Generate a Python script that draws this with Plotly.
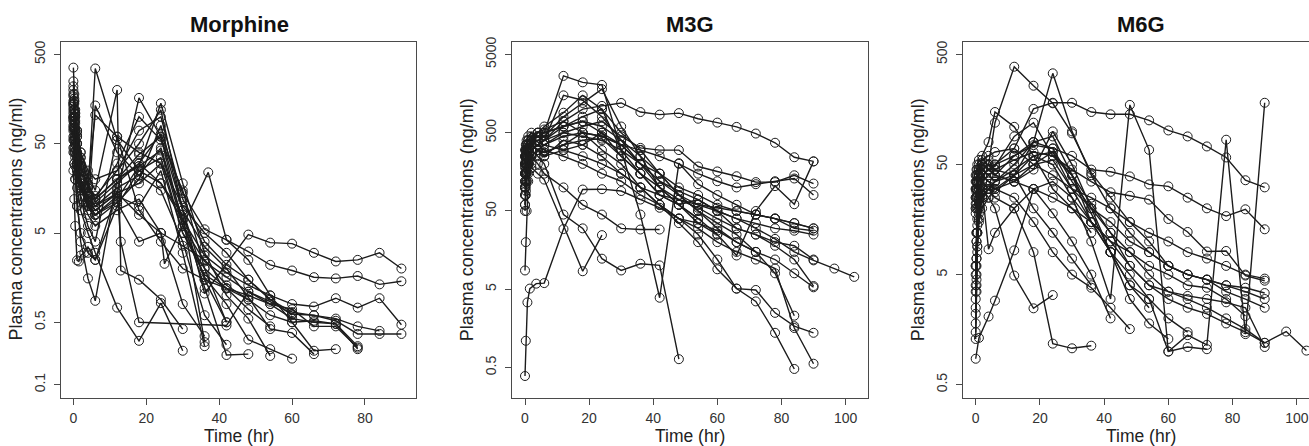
import plotly.graph_objects as go

# ---------------- data (ng/ml vs hr), one list per subject ----------------
panel_titles = ["Morphine", "M3G", "M6G"]
x_label = "Time (hr)"
y_label = "Plasma concentrations (ng/ml)"

morphine_x_ticks = [0, 20, 40, 60, 80]
morphine_y_ticks = [0.1, 0.5, 5, 50, 500]
m3g_x_ticks = [0, 20, 40, 60, 80, 100]
m3g_y_ticks = [0.5, 5, 50, 500, 5000]
m6g_x_ticks = [0, 20, 40, 60, 80, 100]
m6g_y_ticks = [0.5, 5, 50, 500]

T21 = [0, 0.25, 0.5, 1, 2, 4, 6, 12, 18, 24, 30, 36, 42, 48, 54, 60, 66, 72, 78, 84, 90]

morphine_time = [
    [0, 0.25, 0.5, 1, 2, 4, 6, 12, 18, 24, 30, 36, 48, 54, 60, 66, 72, 78, 84, 90],
    T21,
    T21,
    T21,
    T21[:20],
    T21[:19],
    [0, 0.25, 0.5, 1, 2, 4, 6, 12, 13, 18, 24, 30],
    T21[:17],
    T21[:16],
    T21[:15],
    T21[:14],
    T21[:13],
    T21[:12],
    [0, 0.25, 0.5, 1, 2, 4, 6, 12, 18, 24, 25, 37, 42, 48, 54, 60, 66, 72],
    [0, 0.25, 0.5, 1, 2, 4, 6, 12, 13, 18, 42, 48, 54, 60, 66, 72, 78],
    T21[:11],
    T21[:12],
    [0, 0.25, 0.5, 1, 1.5, 2, 3, 4, 6, 12, 18, 24, 30, 36, 42],
    T21[:16],
    T21[:15],
    T21[:13],
    T21[:19],
    T21[:14],
    T21[:12],
]
morphine_conc = [
    [356, 160, 110, 65, 35, 18, 12, 20, 38, 60, 9, 1.05, 4.8, 3.9, 3.8, 3.0, 2.4, 2.5, 3.0, 2.0],
    [130, 100, 75, 50, 28, 16, 11, 18, 30, 65, 14, 5.5, 4.2, 3.1, 2.2, 1.9, 1.6, 1.55, 1.65, 1.33, 1.44],
    [95, 75, 55, 35, 20, 13, 10, 16, 22, 45, 7, 2.8, 1.8, 1.3, 1.0, 0.8, 0.75, 0.93, 0.73, 0.93, 0.47],
    [110, 85, 60, 30, 16, 10, 8, 12, 28, 42, 6, 2.4, 1.6, 1.1, 0.85, 0.62, 0.6, 0.52, 0.37, 0.37, 0.37],
    [150, 120, 90, 50, 28, 17, 13, 25, 70, 100, 12, 4, 2.2, 1.5, 0.9, 0.65, 0.6, 0.55, 0.45, 0.4],
    [140, 110, 70, 40, 20, 11, 9, 14, 18, 30, 5, 1.7, 1.2, 0.9, 0.6, 0.5, 0.52, 0.48, 0.25],
    [200, 150, 110, 70, 40, 22, 15, 200, 1.9, 1.5, 0.9, 0.42],
    [90, 70, 50, 30, 18, 10, 7, 11, 20, 80, 9, 3.5, 2.0, 0.95, 0.42, 0.38, 0.22],
    [120, 90, 60, 35, 20, 12, 10, 14, 163, 60, 6, 1.6, 0.8, 0.32, 0.25, 0.196],
    [80, 60, 45, 30, 20, 13, 12, 20, 28, 142, 18, 3, 1.0, 0.55, 0.21],
    [170, 120, 85, 50, 25, 14, 348, 55, 25, 18, 7, 1.2, 0.215, 0.22],
    [100, 75, 50, 30, 17, 9, 134, 40, 22, 15, 4, 0.6, 0.28],
    [70, 55, 40, 25, 15, 10, 8, 13, 10, 25, 3, 0.27],
    [60, 45, 35, 22, 13, 8, 6, 9, 12, 5, 2.26, 23.9, 4.2, 2.5, 1.0, 0.5, 0.24, 0.25],
    [45, 30, 20, 10, 5, 3, 2.5, 15, 4, 0.5, 0.46, 1.1, 0.8, 0.55, 0.5, 0.48, 0.27],
    [55, 40, 28, 16, 9, 5, 3, 0.73, 0.31, 0.82, 0.24],
    [40, 30, 20, 10, 4, 1.55, 0.87, 20, 30, 18, 8, 0.3],
    [25, 12, 6, 2.47, 2.4, 2.8, 3.0, 3.5, 2.5, 10, 25, 35, 5, 2, 0.5],
    [180, 140, 100, 60, 35, 20, 105, 60, 40, 30, 10, 5, 3, 1.5, 0.9, 0.6],
    [220, 150, 100, 60, 30, 16, 12, 30, 100, 55, 15, 2, 1.2, 0.7, 0.45],
    [250, 180, 120, 70, 40, 25, 20, 25, 50, 120, 9, 1.5, 0.5],
    [100, 80, 50, 25, 12, 6, 4, 60, 9, 4, 2, 1.5, 1.2, 1.0, 0.8, 0.7, 0.45, 0.45, 0.26],
    [140, 100, 70, 40, 20, 12, 9, 14, 8, 5, 3.6, 2.5, 1.3, 0.9],
    [75, 55, 40, 28, 18, 11, 8, 11, 4, 5, 0.8, 0.35],
]

m3g_time = [
    T21,
    T21,
    T21,
    [0, 0.25, 0.75, 1.5, 3.5, 6, 12, 18, 24, 30, 36, 42, 48, 54, 60, 66, 72, 78, 84, 90],
    T21,
    [0, 0.25, 0.5, 1, 2, 4, 6, 18, 24],
    T21[:14],
    T21,
    T21,
    T21 + [96.5, 102.7],
    T21[:20],
    T21,
    T21,
    T21,
    T21,
    T21,
    T21[:20],
    T21[:16],
    T21[:18],
    T21,
    T21[:15],
    T21[:13],
]
m3g_conc = [
    [150, 200, 250, 300, 380, 500, 550, 700, 1000, 1100, 1200, 918, 851, 890, 755, 673, 593, 488, 372, 243, 215],
    [120, 160, 200, 250, 300, 350, 400, 500, 600, 700, 450, 320, 300, 300, 185, 160, 139, 117, 117, 143, 112],
    [200, 250, 300, 350, 400, 450, 500, 2660, 2200, 2040, 300, 150, 100, 70, 55, 40, 30, 25, 18, 12, 5.5],
    [0.39, 1.1, 3.4, 5.1, 5.9, 6.0, 29.4, 94, 95, 90, 70, 55, 40, 35, 28, 20, 15, 12, 8, 5.3],
    [8.7, 20, 50, 120, 200, 300, 350, 450, 500, 450, 350, 200, 120, 80, 60, 50, 40, 35, 30, 28, 25],
    [60, 90, 120, 150, 180, 150, 126, 8.5, 24.6],
    [100, 150, 200, 250, 300, 250, 200, 45, 30, 12.3, 8.7, 10.6, 10.1, 0.64],
    [200, 260, 300, 350, 400, 450, 500, 600, 800, 1000, 300, 45, 3.9, 204, 110, 80, 60, 45, 40, 30, 28],
    [150, 200, 250, 300, 350, 300, 280, 350, 400, 420, 250, 150, 80, 60, 35, 25, 13.5, 50, 104, 61, 215],
    [250, 300, 350, 400, 450, 500, 500, 600, 700, 600, 400, 200, 120, 90, 70, 50, 40, 30, 22, 15, 11.7, 9.2, 7.2],
    [300, 350, 400, 450, 500, 450, 400, 700, 500, 300, 200, 100, 60, 40, 25, 12, 5.1, 3.5, 1.39, 0.48],
    [180, 220, 260, 300, 350, 300, 250, 400, 350, 250, 150, 100, 60, 35, 20, 9, 5.1, 4.9, 2.5, 1.69, 1.39],
    [100, 150, 200, 250, 300, 350, 300, 250, 200, 150, 120, 80, 60, 40, 30, 20, 15, 12, 9.2, 1.6, 0.56],
    [80, 120, 160, 200, 250, 300, 350, 500, 450, 400, 300, 200, 150, 100, 80, 60, 50, 45, 40, 35, 30],
    [50, 80, 120, 180, 250, 300, 280, 350, 500, 450, 350, 300, 250, 200, 150, 120, 100, 110, 120, 130, 80],
    [250, 300, 350, 400, 420, 380, 350, 300, 250, 200, 150, 100, 80, 70, 60, 55, 50, 45, 40, 35, 30],
    [100, 150, 200, 250, 300, 350, 400, 1500, 1300, 800, 400, 250, 150, 80, 50, 35, 25, 15, 8, 2.3],
    [150, 200, 250, 300, 350, 400, 450, 800, 1200, 1800, 600, 250, 100, 60, 40, 25],
    [200, 250, 300, 350, 400, 500, 600, 900, 1500, 1000, 500, 300, 150, 80, 50, 30, 20, 15],
    [120, 180, 250, 300, 350, 300, 250, 300, 350, 500, 250, 150, 80, 60, 70, 50, 30, 25, 20, 18, 12],
    [60, 100, 150, 200, 300, 350, 400, 600, 700, 500, 350, 200, 100, 60, 40],
    [80, 110, 150, 200, 250, 200, 150, 100, 60, 45, 30, 29, 29],
]

m6g_time = [
    T21,
    T21,
    T21,
    T21,
    [0, 1, 4, 6, 12, 18, 24, 30, 36, 42, 48, 54, 60, 66, 72, 78, 84, 90],
    T21 + [96.7, 103],
    T21[:10],
    T21[:12],
    T21,
    T21,
    T21,
    T21,
    T21[:20],
    T21[:18],
    T21[:16],
    T21[:14],
    T21[:15],
    T21[:13],
    T21,
    T21[:12],
    T21[:17],
    T21[:12],
]
m6g_conc = [
    [20, 25, 30, 35, 40, 45, 50, 70, 160, 182, 182, 150, 143, 143, 126, 102, 90, 73, 58, 36, 31],
    [3, 6, 12, 25, 35, 50, 120, 387, 260, 180, 96, 42, 25, 15, 10, 6, 5, 4.5, 3.5, 3, 2.5],
    [1.5, 4, 9, 18, 25, 30, 35, 50, 80, 337, 100, 40, 20, 12, 8, 6, 5, 4.5, 4, 3.5, 3],
    [25, 30, 35, 40, 45, 40, 35, 40, 60, 50, 25, 10, 3.0, 174, 68, 1.0, 1.41, 1.15, 84, 1.44, 182],
    [0.86, 1.33, 2.08, 2.9, 8.3, 30, 35, 25, 15, 10, 6, 4, 3, 2.5, 2.2, 1.8, 1.5, 1.2],
    [30, 35, 40, 45, 50, 45, 40, 60, 80, 70, 35, 20, 12, 8, 5, 3.5, 3, 2.5, 2, 1.6, 1.2, 1.52, 1.02],
    [4, 10, 20, 30, 30, 25, 20, 4.9, 2.47, 3.26],
    [2.2, 5, 12, 22, 35, 30, 25, 20, 8, 1.18, 1.07, 1.13],
    [20, 25, 30, 35, 40, 45, 50, 60, 75, 70, 60, 45, 43, 39, 33, 31.7, 25, 20, 17, 19.6, 12.9],
    [18, 22, 26, 30, 35, 40, 45, 55, 65, 60, 45, 35, 28, 26, 24, 16, 12.2, 8.1, 8.2, 4.9, 4.4],
    [2.5, 7, 14, 22, 26, 30, 28, 40, 50, 55, 30, 20, 15, 10, 8, 6, 5, 4.5, 4, 3.8, 3.4],
    [1.3, 3.5, 8, 16, 25, 30, 35, 45, 60, 65, 40, 22, 12, 6, 4, 3.5, 3.2, 3, 2.8, 2.5, 1.1],
    [25, 30, 35, 40, 45, 50, 40, 35, 30, 25, 20, 15, 10, 8, 6, 5, 4, 3.8, 3, 2.1],
    [30, 35, 40, 45, 50, 55, 45, 40, 80, 90, 40, 18, 8, 4, 3, 1.0, 1.1, 1.05],
    [6, 12, 20, 30, 40, 35, 30, 35, 45, 100, 50, 20, 8, 3, 1.8, 1.3],
    [3.5, 7, 12, 20, 28, 32, 30, 25, 15, 8, 5, 3.8, 2.5, 1.6],
    [22, 28, 34, 40, 50, 45, 40, 35, 50, 65, 30, 15, 8, 4, 2.5],
    [6, 10, 16, 24, 30, 8.5, 12, 20, 30, 18, 10, 5, 2.0],
    [35, 40, 45, 50, 55, 60, 65, 70, 50, 40, 30, 25, 20, 15, 12, 10, 8, 7, 6, 5, 4.6],
    [5, 12, 25, 40, 60, 80, 150, 110, 60, 30, 20, 12],
    [40, 45, 50, 55, 52, 50, 48, 90, 120, 60, 40, 15, 8, 5, 3, 2, 1.5],
    [1.8, 4.5, 9, 15, 20, 25, 30, 40, 20, 12, 7, 4],
]

# ---------------- figure ----------------
W, H = 1309, 446
INK = "#1c1c1c"
FONT = "Liberation Sans, Arial, sans-serif"

panels = [
    dict(times=morphine_time, conc=morphine_conc, xt=morphine_x_ticks, yt=morphine_y_ticks,
         px=(61, 416), xr=[-3.4, 94.0], yr=[-1.144, 2.843], ymirror=True),
    dict(times=m3g_time, conc=m3g_conc, xt=m3g_x_ticks, yt=m3g_y_ticks,
         px=(511.7, 867.7), xr=[-4.15, 106.9], yr=[-0.684, 3.863], ymirror=True),
    dict(times=m6g_time, conc=m6g_conc, xt=m6g_x_ticks, yt=m6g_y_ticks,
         px=(962.7, 1309), xr=[-4.05, 103.8], yr=[-0.418, 2.816], ymirror=False),
]

top_px, bot_px = 37, 397
ydom = [1 - bot_px / H, 1 - top_px / H]

fig = go.Figure()
annotations = []
for i, p in enumerate(panels):
    sfx = "" if i == 0 else str(i + 1)
    for t, c in zip(p["times"], p["conc"]):
        fig.add_trace(go.Scatter(
            x=t, y=c, mode="lines+markers", xaxis="x" + sfx, yaxis="y" + sfx,
            line=dict(color=INK, width=1.4),
            marker=dict(symbol="circle-open", size=9, color=INK, line=dict(width=1)),
            showlegend=False, hoverinfo="x+y"))
    x0, x1 = p["px"]
    xdom = [x0 / W, min(x1 / W, 1.0)]
    axis_common = dict(showgrid=False, zeroline=False, showline=True, linecolor="#4a4a4a",
                       linewidth=1, ticks="outside", ticklen=6, tickwidth=1, tickcolor="#4a4a4a",
                       tickfont=dict(family=FONT, size=14, color="#333"))
    fig.update_layout(**{
        "xaxis" + sfx: dict(axis_common, domain=xdom, range=p["xr"], anchor="y" + sfx,
                            mirror=True, tickvals=p["xt"], ticktext=[str(v) for v in p["xt"]],
                            ticklabelstandoff=2),
        "yaxis" + sfx: dict(axis_common, domain=ydom, range=p["yr"], type="log",
                            anchor="x" + sfx, mirror=p["ymirror"], tickvals=p["yt"],
                            ticktext=[f"{v:g}" for v in p["yt"]], tickangle=-90,
                            ticklabelstandoff=3),
    })
    cx = (x0 + (x0 + 356)) / 2 / W
    annotations.append(dict(text="<b>" + panel_titles[i] + "</b>", x=cx, y=1 - 20 / H,
                            xref="paper", yref="paper", showarrow=False,
                            font=dict(family=FONT, size=22, color="#111"),
                            xanchor="center", yanchor="middle"))
    annotations.append(dict(text=x_label, x=cx, y=1 - 436 / H, xref="paper", yref="paper",
                            showarrow=False, font=dict(family=FONT, size=17.5, color="#222"),
                            xanchor="center", yanchor="middle"))
    annotations.append(dict(text=y_label, x=(x0 - 45) / W, y=1 - 217 / H, xref="paper",
                            yref="paper", showarrow=False, textangle=-90,
                            font=dict(family=FONT, size=18, color="#222"),
                            xanchor="center", yanchor="middle"))

fig.update_layout(width=W, height=H, margin=dict(l=0, r=0, t=0, b=0),
                  paper_bgcolor="white", plot_bgcolor="white",
                  annotations=annotations, showlegend=False)

fig.write_html("out.html", config={"displayModeBar": False},
               post_script="document.body.style.margin='0px';document.body.style.overflow='hidden';")
